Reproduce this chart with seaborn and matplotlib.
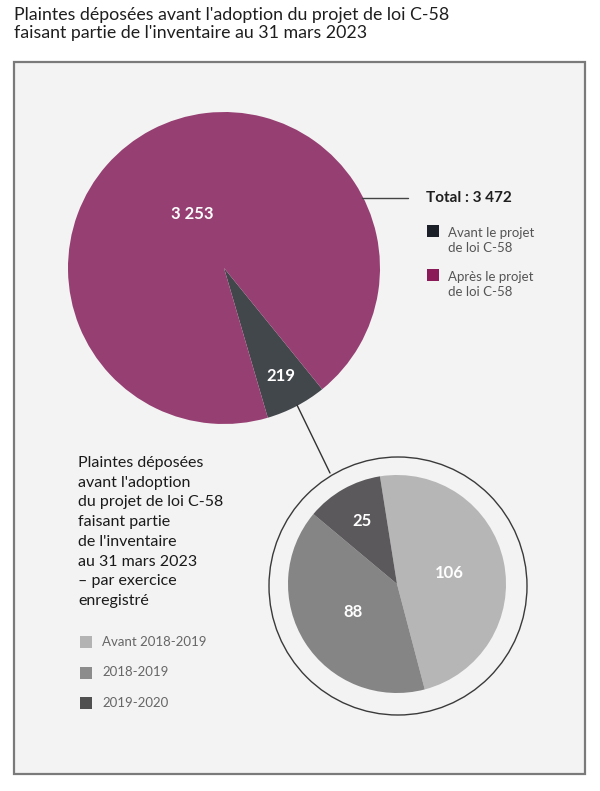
import matplotlib
matplotlib.use("Agg")
import matplotlib.pyplot as plt
import seaborn as sns
import numpy as np
from matplotlib.patches import Rectangle, Circle

sns.set_style("white")
plt.rcParams['font.family'] = ['Lato', 'DejaVu Sans']

# ---- data ----
title = ("Plaintes déposées avant l'adoption du projet de loi C-58\n"
         "faisant partie de l'inventaire au 31 mars 2023")
main_labels = ["Avant le projet\nde loi C-58", "Après le projet\nde loi C-58"]
main_values = [219, 3253]
main_value_text = ["219", "3 253"]
total_text = "Total : 3 472"
sub_title = ("Plaintes déposées\navant l'adoption\ndu projet de loi C-58\nfaisant partie\n"
             "de l'inventaire\nau 31 mars 2023\n– par exercice\nenregistré")
sub_labels = ["Avant 2018-2019", "2018-2019", "2019-2020"]
sub_values = [106, 88, 25]
sub_value_text = ["106", "88", "25"]

# ---- styles ----
main_colors = sns.color_palette(["#42474c", "#963f72"])
legend_main_colors = ["#1b1f27", "#8a1a58"]
sub_colors = sns.color_palette(["#b7b6b7", "#868586", "#5b595b"])
legend_sub_colors = ["#b3b3b3", "#8c8c8c", "#505050"]

W, H = 600, 791
fig = plt.figure(figsize=(6, 7.91), dpi=100)
fig.patch.set_facecolor("white")


def px_axes(cx, cy, r, z):
    ax = fig.add_axes([(cx - r) / W, 1 - (cy + r) / H, 2 * r / W, 2 * r / H])
    ax.axis('off')
    ax.set_zorder(z)
    return ax


def fix_limits(ax):
    ax.set_xlim(-1, 1)
    ax.set_ylim(-1, 1)
    ax.set_aspect('equal')


def overlay(z):
    ax = fig.add_axes([0, 0, 1, 1])
    ax.set_xlim(0, W)
    ax.set_ylim(H, 0)
    ax.axis('off')
    ax.set_zorder(z)
    ax.patch.set_alpha(0)
    return ax


bg = overlay(0)
bg.add_patch(Rectangle((14, 62), 571, 712, facecolor="#f3f3f3",
                       edgecolor="#7a7a7a", lw=1.6))
bg.text(14, 7, title, va='top', ha='left', fontsize=12.8, color="#1e1e1e",
        linespacing=1.12)

# ---- big pie ----
ax1 = px_axes(224, 268, 156, 2)
w1, _ = ax1.pie(main_values, colors=main_colors, startangle=-73.7,
                counterclock=True, radius=1, wedgeprops=dict(linewidth=0))
fix_limits(ax1)
for w, t, r in zip(w1, main_value_text, [0.78, 0.40]):
    a = np.deg2rad((w.theta1 + w.theta2) / 2 + (3 if r < 0.5 else 0))
    ax1.text(r * np.cos(a), r * np.sin(a), t, ha='center', va='center',
             color='white', fontsize=12, fontweight='bold')

# ---- small pie ----
bg.add_patch(Circle((398, 586), 129, facecolor='none', edgecolor='#3a3a3a', lw=1))
ax2 = px_axes(397, 584, 109, 2)
w2, _ = ax2.pie(sub_values, colors=sub_colors, startangle=99,
                counterclock=False, radius=1, wedgeprops=dict(linewidth=0))
fix_limits(ax2)
for w, t, r in zip(w2, sub_value_text, [0.49, 0.48, 0.66]):
    a = np.deg2rad((w.theta1 + w.theta2) / 2)
    ax2.text(r * np.cos(a), r * np.sin(a), t, ha='center', va='center',
             color='white', fontsize=12, fontweight='bold')

# ---- top overlay: lines, legends, text ----
ov = overlay(5)
ov.plot([362, 408], [198, 198], color="#444444", lw=1)
ov.plot([297, 330], [405, 473], color="#333333", lw=1)

ov.text(426, 198, total_text, va='center', ha='left', fontsize=11,
        color="#1e1e1e", fontweight='bold')
for i, (lab, c) in enumerate(zip(main_labels, legend_main_colors)):
    y = 231 + i * 44
    ov.add_patch(Rectangle((427, y - 6), 12, 12, facecolor=c, edgecolor='none'))
    ov.text(448, y - 4, lab, va='top', ha='left', fontsize=9.5,
            color="#555555", linespacing=1.3)

ov.text(78, 456, sub_title, va='top', ha='left', fontsize=11.5,
        color="#1a1a1a", linespacing=1.52)
for i, (lab, c) in enumerate(zip(sub_labels, legend_sub_colors)):
    y = 642 + i * 30.5
    ov.add_patch(Rectangle((80, y - 6), 12, 12, facecolor=c, edgecolor='none'))
    ov.text(102, y, lab, va='center', ha='left', fontsize=9.5, color="#666666")

fig.savefig("out.png", dpi=100, facecolor=fig.get_facecolor())
